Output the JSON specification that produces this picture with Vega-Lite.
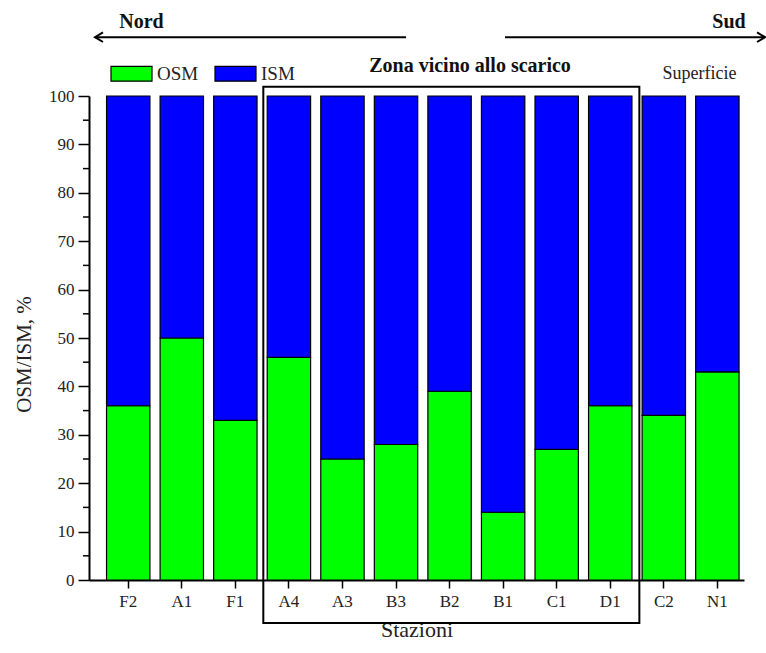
{
  "$schema": "https://vega.github.io/schema/vega-lite/v6.json",
  "width": 655,
  "height": 484,
  "autosize": {"type": "none"},
  "padding": {"left": 89, "top": 96, "right": 22, "bottom": 73},
  "background": "white",
  "config": {
    "view": {"stroke": null},
    "font": "Liberation Serif",
    "axis": {"labelFont": "Liberation Serif", "titleFont": "Liberation Serif", "labelColor": "#222", "titleColor": "#222", "titleFontWeight": "normal", "domainColor": "black", "tickColor": "black", "domainWidth": 2, "tickWidth": 1.5, "grid": false, "ticks": true}
  },
  "datasets": {
    "bars": [
      {"station": "F2", "component": "OSM", "value": 36}, {"station": "F2", "component": "ISM", "value": 64},
      {"station": "A1", "component": "OSM", "value": 50}, {"station": "A1", "component": "ISM", "value": 50},
      {"station": "F1", "component": "OSM", "value": 33}, {"station": "F1", "component": "ISM", "value": 67},
      {"station": "A4", "component": "OSM", "value": 46}, {"station": "A4", "component": "ISM", "value": 54},
      {"station": "A3", "component": "OSM", "value": 25}, {"station": "A3", "component": "ISM", "value": 75},
      {"station": "B3", "component": "OSM", "value": 28}, {"station": "B3", "component": "ISM", "value": 72},
      {"station": "B2", "component": "OSM", "value": 39}, {"station": "B2", "component": "ISM", "value": 61},
      {"station": "B1", "component": "OSM", "value": 14}, {"station": "B1", "component": "ISM", "value": 86},
      {"station": "C1", "component": "OSM", "value": 27}, {"station": "C1", "component": "ISM", "value": 73},
      {"station": "D1", "component": "OSM", "value": 36}, {"station": "D1", "component": "ISM", "value": 64},
      {"station": "C2", "component": "OSM", "value": 34}, {"station": "C2", "component": "ISM", "value": 66},
      {"station": "N1", "component": "OSM", "value": 43}, {"station": "N1", "component": "ISM", "value": 57}
    ],
    "minor": [
      {"tick": 5}, {"tick": 15}, {"tick": 25}, {"tick": 35}, {"tick": 45},
      {"tick": 55}, {"tick": 65}, {"tick": 75}, {"tick": 85}, {"tick": 95}
    ],
    "arrows": [
      {"dir": "left", "from": -0.622, "to": 5.186, "level": 112.15, "tip": -0.622},
      {"dir": "right", "from": 7.034, "to": 11.89, "level": 112.15, "tip": 11.89}
    ],
    "boldlabels": [
      {"text": "Nord", "pos": 0.246, "level": 114.05},
      {"text": "Sud", "pos": 11.218, "level": 114.05},
      {"text": "Zona vicino allo scarico", "pos": 6.381, "level": 104.96}
    ],
    "plainlabels": [
      {"text": "Superficie", "pos": 10.667, "level": 103.5}
    ],
    "zone": [
      {"start": 2.521, "end": 9.543, "top": 101.9, "bottom": -8.9}
    ]
  },
  "resolve": {"scale": {"x": "independent"}},
  "layer": [
    {
      "data": {"name": "bars"},
      "mark": {"type": "bar", "stroke": "black", "strokeWidth": 1.2},
      "encoding": {
        "x": {
          "field": "station", "type": "nominal", "sort": null,
          "scale": {"paddingInner": 0.19, "paddingOuter": 0.21, "align": 0.78},
          "axis": {"title": "Stazioni", "labelAngle": 0, "labelFontSize": 17, "titleFontSize": 22, "ticks": true, "tickSize": 8, "labelPadding": 5, "titlePadding": 10}
        },
        "y": {
          "field": "value", "type": "quantitative", "stack": "zero",
          "scale": {"domain": [0, 100], "nice": false},
          "axis": {
            "title": "OSM/ISM,  %", "titleFontSize": 21, "labelFontSize": 17, "titlePadding": 14, "titleY": 258,
            "values": [0, 10, 20, 30, 40, 50, 60, 70, 80, 90, 100],
            "ticks": true, "tickSize": 11, "labelPadding": 4
          }
        },
        "color": {
          "field": "component", "type": "nominal",
          "scale": {"domain": ["OSM", "ISM"], "range": ["#00FF00", "#0000FF"]},
          "legend": {
            "title": null, "orient": "none", "direction": "horizontal",
            "legendX": 21, "legendY": -44,
            "symbolType": "M-1,-0.36H1V0.36H-1Z", "symbolSize": 1681,
            "symbolStrokeColor": "black", "symbolStrokeWidth": 1.2,
            "labelFont": "Liberation Serif", "labelFontSize": 19, "labelColor": "#222",
            "labelOffset": 4, "columnPadding": 13
          }
        },
        "order": {"field": "component", "sort": "descending"}
      }
    },
    {
      "data": {"name": "minor"},
      "mark": {"type": "rule", "stroke": "black", "strokeWidth": 1.5, "clip": false},
      "encoding": {
        "x": {"datum": -0.846, "type": "quantitative", "scale": {"domain": [-0.734, 11.497], "nice": false, "zero": false}, "axis": null},
        "x2": {"datum": -0.734},
        "y": {"field": "tick", "type": "quantitative"}
      }
    },
    {
      "data": {"name": "zone"},
      "mark": {"type": "rect", "fill": null, "fillOpacity": 0, "stroke": "black", "strokeWidth": 2, "clip": false},
      "encoding": {
        "x": {"field": "start", "type": "quantitative", "scale": {"domain": [-0.734, 11.497], "nice": false, "zero": false}, "axis": null},
        "x2": {"field": "end"},
        "y": {"field": "top", "type": "quantitative"},
        "y2": {"field": "bottom"}
      }
    },
    {
      "data": {"name": "arrows"},
      "mark": {"type": "rule", "stroke": "black", "strokeWidth": 2},
      "encoding": {
        "x": {"field": "from", "type": "quantitative", "scale": {"domain": [-0.734, 11.497], "nice": false, "zero": false}, "axis": null},
        "x2": {"field": "to"},
        "y": {"field": "level", "type": "quantitative"}
      }
    },
    {
      "data": {"name": "arrows"},
      "mark": {"type": "point", "filled": false, "stroke": "black", "strokeWidth": 2, "opacity": 1, "size": 256},
      "encoding": {
        "x": {"field": "tip", "type": "quantitative", "scale": {"domain": [-0.734, 11.497], "nice": false, "zero": false}, "axis": null},
        "y": {"field": "level", "type": "quantitative"},
        "shape": {"field": "dir", "type": "nominal", "scale": {"domain": ["left", "right"], "range": ["M1,-0.6L0,0L1,0.6", "M-1,-0.6L0,0L-1,0.6"]}, "legend": null}
      }
    },
    {
      "data": {"name": "boldlabels"},
      "mark": {"type": "text", "font": "Liberation Serif", "fontSize": 20, "fontWeight": "bold", "color": "#111", "baseline": "alphabetic", "align": "center"},
      "encoding": {
        "x": {"field": "pos", "type": "quantitative", "scale": {"domain": [-0.734, 11.497], "nice": false, "zero": false}, "axis": null},
        "y": {"field": "level", "type": "quantitative"},
        "text": {"field": "text"}
      }
    },
    {
      "data": {"name": "plainlabels"},
      "mark": {"type": "text", "font": "Liberation Serif", "fontSize": 18, "color": "#222", "baseline": "alphabetic", "align": "center"},
      "encoding": {
        "x": {"field": "pos", "type": "quantitative", "scale": {"domain": [-0.734, 11.497], "nice": false, "zero": false}, "axis": null},
        "y": {"field": "level", "type": "quantitative"},
        "text": {"field": "text"}
      }
    }
  ]
}
